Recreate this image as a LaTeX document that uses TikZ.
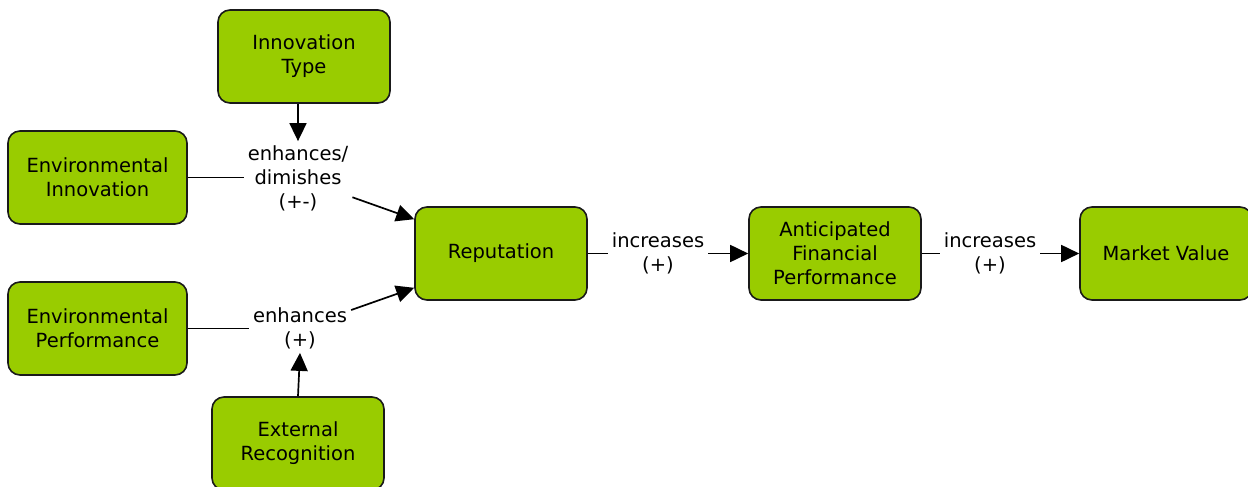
\documentclass[tikz,border=0pt]{standalone}
\usepackage{fontspec}
\setmainfont{DejaVu Sans}
\usetikzlibrary{arrows.meta,calc}
\definecolor{boxgreen}{HTML}{99CC00}
\definecolor{boxline}{HTML}{1A1A1A}
\tikzset{
  concept/.style={draw=boxline, line width=1.6pt, fill=boxgreen, rounded corners=12pt,
    minimum width=172pt, minimum height=93pt, align=center, inner sep=2pt,
    font=\fontsize{19.5}{24}\selectfont},
  wide/.style={minimum width=179pt},
  linklabel/.style={align=center, inner sep=4pt, font=\fontsize{19.5}{24}\selectfont},
  conn/.style={line width=1.7pt, draw=black},
  arr/.style={conn, -{Triangle[length=18pt,width=17pt]}},
}
\begin{document}
\begin{tikzpicture}[x=1pt,y=-1pt]
\useasboundingbox (0,0) rectangle (1248,487);
\node[concept] (itype) at (304,56.5) {Innovation\\Type};
\node[concept,wide] (einno) at (97.5,177.5) {Environmental\\Innovation};
\node[concept,wide] (eperf) at (97.5,328.5) {Environmental\\Performance};
\node[concept] (extrec) at (298,443.5) {External\\Recognition};
\node[concept] (rep) at (501,253.5) {Reputation};
\node[concept] (afp) at (835,253.5) {Anticipated\\Financial\\Performance};
\node[concept] (mv) at (1166,253.5) {Market Value};

\node[linklabel] (l1) at (298,178) {enhances/\\dimishes\\(+-)};
\node[linklabel] (l2) at (300,328) {enhances\\(+)};
\node[linklabel] (l3) at (658,253.5) {increases\\(+)};
\node[linklabel] (l4) at (990,253.5) {increases\\(+)};

\coordinate (r1) at ($(rep.north west)+(0,13)$);
\coordinate (r2) at ($(rep.south west)+(0,-13)$);

\draw[conn] (einno.east) -- (l1.west |- einno.east);
\draw[arr] (l1.north |- itype.south) -- (l1.north);
\draw[arr] (l1) -- (r1);
\draw[conn] (eperf.east) -- (l2.west |- eperf.east);
\draw[arr] (extrec.north) -- (l2.south);
\draw[arr] (l2) -- (r2);
\draw[conn] (rep.east) -- (l3.west |- rep.east);
\draw[arr] (l3.east |- afp.west) -- (afp.west);
\draw[conn] (afp.east) -- (l4.west |- afp.east);
\draw[arr] (l4.east |- mv.west) -- (mv.west);
\end{tikzpicture}
\end{document}
